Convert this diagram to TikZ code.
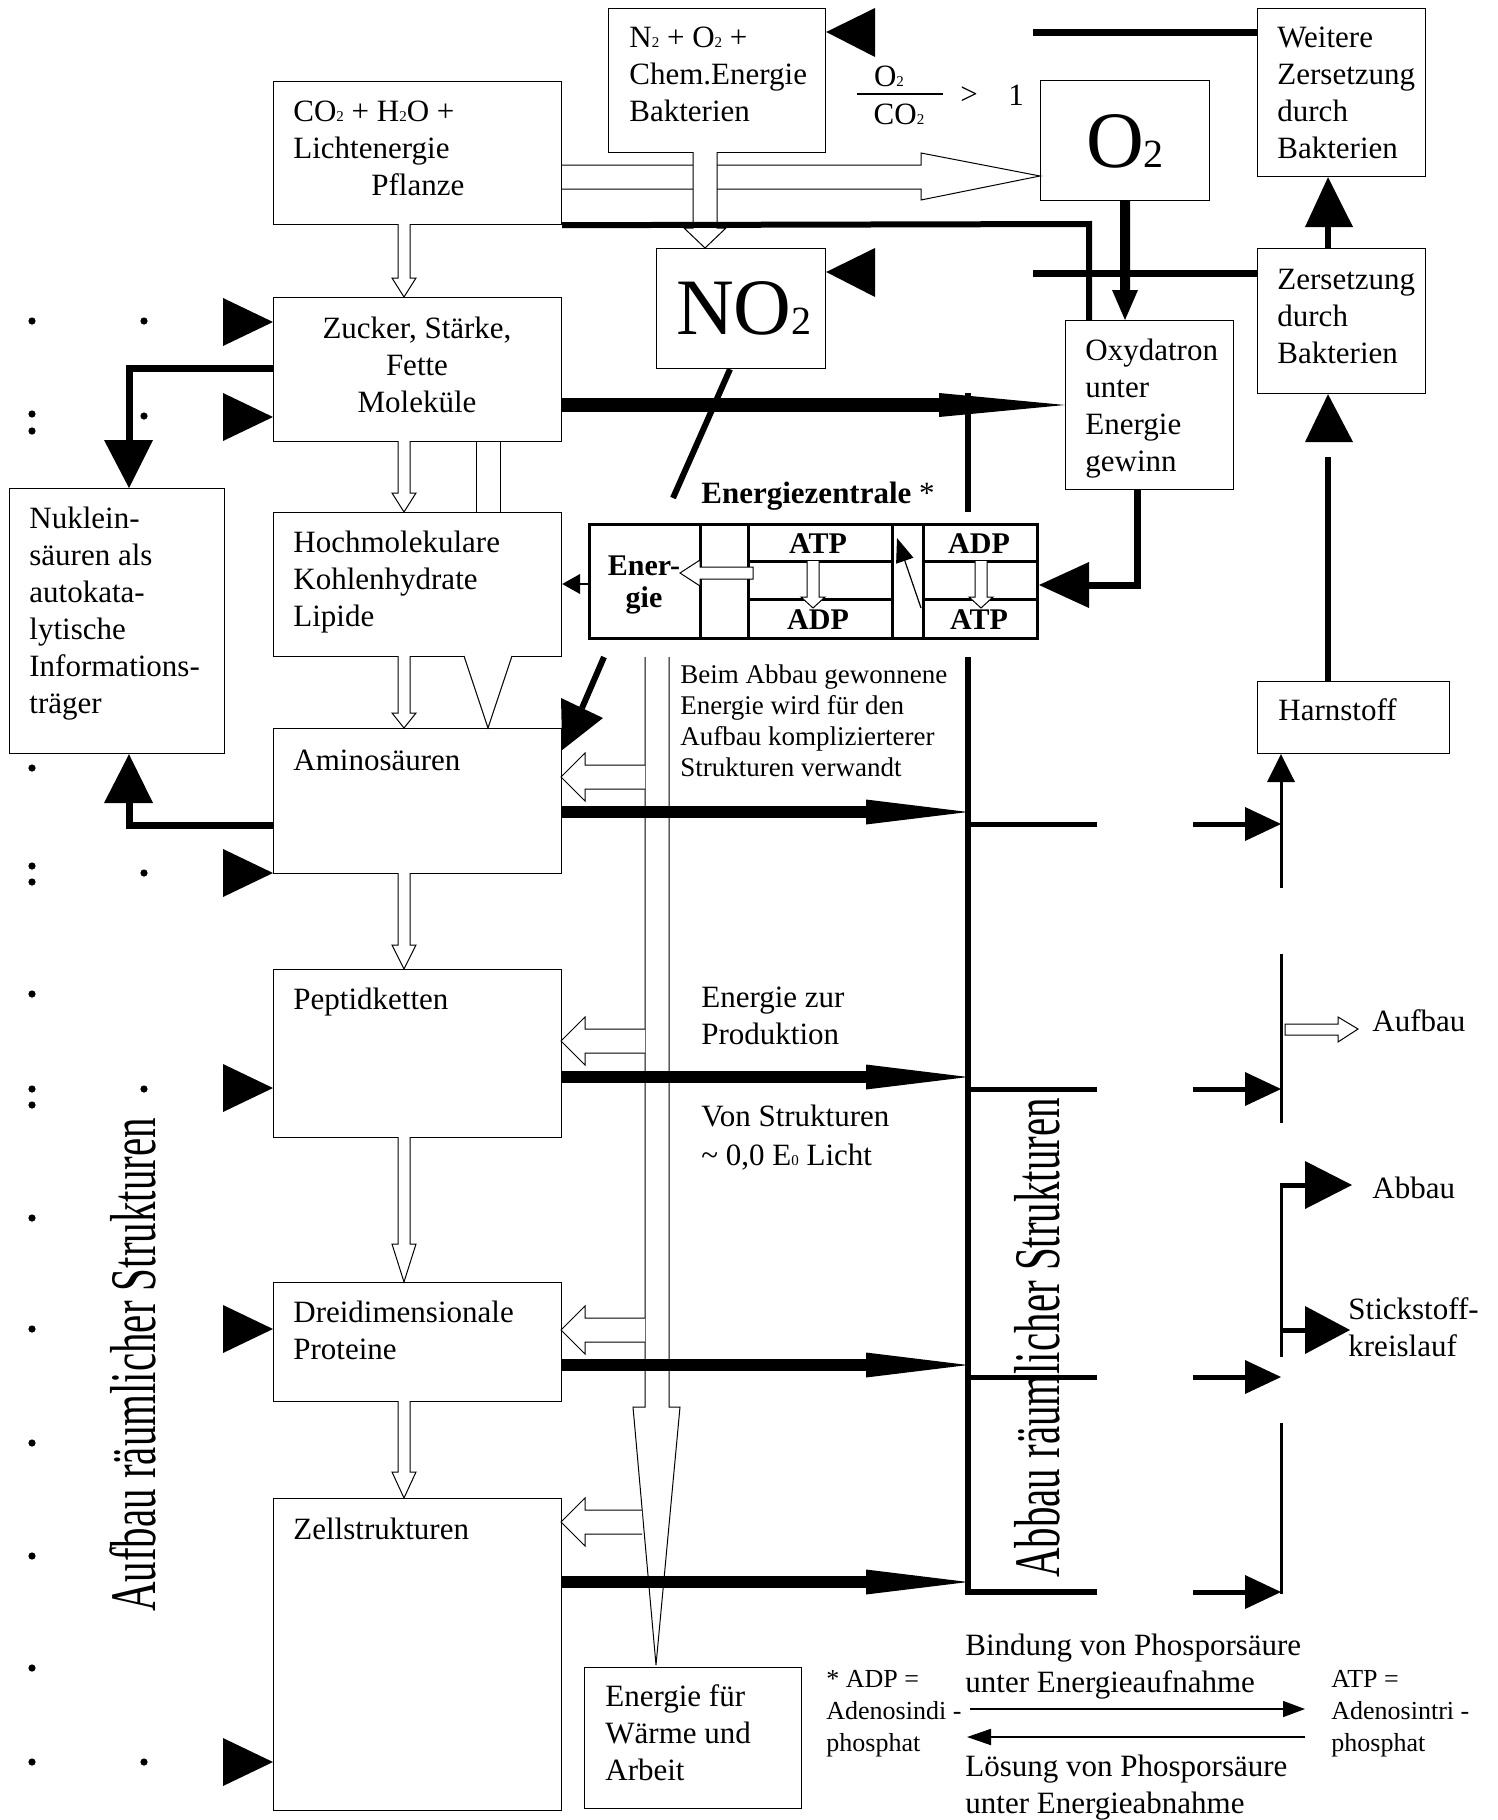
\documentclass[tikz,border=0pt]{standalone}
\usepackage{fontspec}
\setmainfont{Liberation Serif}
\usetikzlibrary{arrows.meta}
\newcommand\nsz{\fontsize{15.5}{18.5}\selectfont}
\newcommand\ssz{\fontsize{13.5}{15.5}\selectfont}
\newcommand\lgz{\fontsize{13}{16}\selectfont}
\newcommand\ezf{\fontsize{15}{18}\selectfont\bfseries}
\newcommand\bigf{\fontsize{40}{44}\selectfont}
\newcommand\sbt[1]{{\fontsize{7.5}{8}\selectfont #1}}
\newcommand\vlab{\fontsize{32.5}{36}\selectfont}
\begin{document}
\begin{tikzpicture}[x=0.5pt,y=-0.5pt,
  box/.style={draw, line width=0.6pt, inner sep=0pt, anchor=north west},
  txt/.style={anchor=north west, inner sep=0pt, align=left, font=\nsz},
  ltxt/.style={anchor=base west, inner sep=0pt, font=\nsz},
  openar/.style={draw, fill=white, line width=0.5pt},
  thk/.style={line width=3.5pt},
  fat/.style={line width=6pt},
  thinv/.style={line width=1.5pt}]
\useasboundingbox (0,0) rectangle (1498,1820);
\fill[white] (0,0) rectangle (1498,1820);

% ---------- boxes ----------
\node[box, minimum width=144pt, minimum height=71.5pt] (co2) at (273,81) {};
\node[box, minimum width=108.5pt, minimum height=72pt] (n2) at (608,8) {};
\node[box, minimum width=84pt, minimum height=84pt] (weitere) at (1257,8) {};
\node[box, minimum width=84.5pt, minimum height=60pt] (o2) at (1040,80) {};
\node[box, minimum width=84.5pt, minimum height=60pt] (no2) at (656,248) {};
\node[box, minimum width=84pt, minimum height=84.5pt] (oxy) at (1065,320) {};
\node[box, minimum width=84pt, minimum height=72.5pt] (zers) at (1257,248) {};
\node[box, minimum width=96pt, minimum height=36pt] (harn) at (1257,681) {};
\node[box, minimum width=144pt, minimum height=72pt] (zucker) at (273,297) {};
\node[box, minimum width=107.5pt, minimum height=132.5pt] (nuklein) at (9,488) {};
\node[box, minimum width=144pt, minimum height=72pt] (hoch) at (273,512) {};
\node[box, minimum width=144pt, minimum height=72.5pt] (amino) at (273,728) {};
\node[box, minimum width=144pt, minimum height=84pt] (peptid) at (273,969) {};
\node[box, minimum width=144pt, minimum height=59.5pt] (drei) at (273,1282) {};
\node[box, minimum width=144pt, minimum height=156pt] (zell) at (273,1498) {};
\node[box, minimum width=108.5pt, minimum height=70.5pt] (waerme) at (584,1667) {};
\node[box, line width=1.5pt, minimum width=224pt, minimum height=57pt] (ez) at (588,523) {};

% ---------- box texts ----------
\node[txt] (co2t) at (293,101) {CO\sbt{2} + H\sbt{2}O +\\Lichtenergie\\\hspace*{39pt}Pflanze};
\node[txt] (n2t) at (629,27) {N\sbt{2} + O\sbt{2} +\\Chem.Energie\\Bakterien};
\node[txt] (weitt) at (1277,27) {Weitere\\Zersetzung\\durch\\Bakterien};
\node[txt] (zerst) at (1277,269) {Zersetzung\\durch\\Bakterien};
\node[txt] (oxyt) at (1085,339) {Oxydatron\\unter\\Energie\\gewinn};
\node[ltxt] (harnt) at (1278,720) {Harnstoff};
\node[txt, anchor=north, align=center] (zuckt) at (417,317) {Zucker, Stärke,\\Fette\\Moleküle};
\node[txt] (nuklt) at (29,507) {Nuklein-\\säuren als\\autokata-\\lytische\\Informations-\\träger};
\node[txt] (hocht) at (293,531) {Hochmolekulare\\Kohlenhydrate\\Lipide};
\node[ltxt] (aminot) at (293,770) {Aminosäuren};
\node[ltxt] (peptt) at (293,1009) {Peptidketten};
\node[txt] (dreit) at (293,1301) {Dreidimensionale\\Proteine};
\node[ltxt] (zellt) at (293,1539) {Zellstrukturen};
\node[txt] (waermt) at (605,1684) {Energie für\\Wärme und\\Arbeit};
\node[anchor=base, inner sep=0pt, font=\bigf] (o2t) at (1125,167) {O{\fontsize{20}{20}\selectfont 2}};
\node[anchor=base, inner sep=0pt, font=\bigf] (no2t) at (744,334) {NO{\fontsize{20}{20}\selectfont 2}};

% fraction
\node[anchor=base, inner sep=0pt, font=\nsz] (fo2) at (889,86) {O\sbt{2}};
\draw[line width=0.8pt] (857,94) -- (943,94);
\node[anchor=base, inner sep=0pt, font=\nsz] (fco2) at (899,124) {CO\sbt{2}};
\node[anchor=center, inner sep=0pt, font=\nsz] (fgt) at (969,96) {>};
\node[anchor=base, inner sep=0pt, font=\nsz] (fone) at (1016,105) {1};

% free texts
\node[ltxt] (ezlab) at (701,503) {\textbf{Energiezentrale} *};
\node[txt, font=\ssz] (beimt) at (680,664) {Beim Abbau gewonnene\\Energie wird für den\\Aufbau komplizierterer\\Strukturen verwandt};
\node[txt] (zurt) at (701,987) {Energie zur\\Produktion};
\node[txt, font=\fontsize{15.5}{19.5}\selectfont] (vont) at (701,1105) {Von Strukturen\\\textasciitilde{} 0,0 E\sbt{0} Licht};
\node[ltxt] (aufbt) at (1372,1031) {Aufbau};
\node[ltxt] (abbt) at (1372,1198) {Abbau};
\node[txt] (stickt) at (1348,1297) {Stickstoff-\\kreislauf};
\node[txt, font=\lgz] (adpt) at (826,1670) {* ADP =\\Adenosindi -\\phosphat};
\node[txt, font=\lgz] (atpt) at (1331,1670) {ATP =\\Adenosintri -\\phosphat};
\node[txt] (bindt) at (965,1634) {Bindung von Phosporsäure\\unter Energieaufnahme};
\node[txt] (loest) at (965,1755) {Lösung von Phosporsäure\\unter Energieabnahme};
\node[anchor=center, rotate=90, inner sep=0pt] (vaufbau) at (133,1365) {\scalebox{0.63}[1]{\vlab Aufbau räumlicher Strukturen}};
\node[anchor=center, rotate=90, inner sep=0pt] (vabbau) at (1037,1338) {\scalebox{0.63}[1]{\vlab Abbau räumlicher Strukturen}};

% ---------- dots and left triangles ----------
\foreach \y in {321,414,431,768,866,882,994,1089,1105,1218,1329,1443,1556,1668,1762}
  \fill (32,\y) circle[radius=1.8pt];
\foreach \y in {321,416,873,1089,1762}
  \fill (144,\y) circle[radius=1.8pt];
\foreach \y in {322,417,873,1088,1329,1762}
  \fill (223,\y-24) -- (273,\y) -- (223,\y+24) -- cycle;

% ---------- open arrows between the left boxes ----------
\newcommand\opendn[4]{\draw[openar] (#1-6,#2) -- (#1-6,#3) -- (#1-12,#3) -- (#1,#4) -- (#1+12,#3) -- (#1+6,#3) -- (#1+6,#2);}
\opendn{404}{224}{278}{297}
\opendn{404}{441}{493}{512}
\opendn{404}{656}{713}{728}
\opendn{404}{873}{945}{969}
\opendn{404}{1137}{1244}{1282}
\opendn{404}{1401}{1472}{1498}
\draw[line width=0.5pt] (476,441) -- (476,512) (500,441) -- (500,512);
\draw[openar] (464,656) -- (488,728) -- (512,656);

% ---------- CO2 -> O2 and N2 -> NO2 open arrows ----------
\draw[openar] (co2.east |- 0,165) -- (921,165) -- (921,153) -- (o2.west |- 0,176) -- (921,200) -- (921,189) -- (co2.east |- 0,189);
\draw[openar] (693,152) -- (693,228) -- (684,228) -- (705,248) -- (726,228) -- (717,228) -- (717,152);

% ---------- energy column ----------
\draw[openar] (645,657) -- (645,1407) -- (633,1407) -- (656,1665) -- (680,1407) -- (669,1407) -- (669,657);
\newcommand\openlf[2]{\draw[openar] (#2,#1-12) -- (585,#1-12) -- (585,#1-24) -- (561,#1) -- (585,#1+24) -- (585,#1+12) -- (#2,#1+12);}
\openlf{777}{645}
\openlf{1041}{645}
\openlf{1330}{645}
\openlf{1522}{642}

% ---------- thick black connectors (top) ----------
\draw[line width=3pt] (co2.south east) -- (1089,224) -- (oxy.north -| 1089,0);
\fill (n2.east |- 0,32) -- (875,8) -- (875,57) -- cycle;
\draw[thk] (1033,32) -- (weitere.west |- 0,32);
\fill (no2.east |- 0,272) -- (875,248) -- (875,297) -- cycle;
\draw[thk] (1033,273) -- (zers.west |- 0,273);
\draw[line width=5pt] (o2.south) -- (1125,291);
\fill (1112,290) -- (oxy.north -| 1125,0) -- (1138,290) -- cycle;
\draw[line width=3pt] (zers.north -| 1328,0) -- (1328,226);
\fill (1305,227) -- (weitere.south -| 1328,0) -- (1353,227) -- cycle;
\draw[line width=3pt] (harn.north -| 1328,0) -- (1328,457);
\fill (1305,442) -- (zers.south -| 1328,0) -- (1353,442) -- cycle;
\draw[thk] (oxy.south -| 1137,0) -- (1137,585) -- (1088,585);
\fill (1089,562) -- (ez.east |- 0,585) -- (1089,608) -- cycle;

% Nuklein connectors
\draw[thk] (zucker.west |- 0,368) -- (129,368) -- (129,441);
\fill (104,440) -- (nuklein.north -| 129,0) -- (153,440) -- cycle;
\draw[thk] (amino.west |- 0,825) -- (129,825) -- (129,802);
\fill (104,803) -- (nuklein.south -| 129,0) -- (153,803) -- cycle;

% NO2 diagonal
\draw[line width=3pt] (no2.south -| 730,0) -- (673,498);
\draw[line width=3pt] (604,657) -- (582,708);
\fill (561,698) -- (603,718) -- (amino.east |- 0,750) -- cycle;

% ---------- Energiezentrale internals ----------
\draw[line width=1.5pt] (700,523) -- (700,637) (748,523) -- (748,637) (892,523) -- (892,637) (923,523) -- (923,637)
  (748,561) -- (892,561) (748,599) -- (892,599) (923,561) -- (1036,561) (923,599) -- (1036,599);
\draw[openar] (807,561) -- (807,597) -- (801,597) -- (813,608) -- (825,597) -- (819,597) -- (819,561);
\draw[openar] (975,561) -- (975,597) -- (969,597) -- (981,608) -- (993,597) -- (987,597) -- (987,561);
\draw[openar] (753,567) -- (700,567) -- (700,560) -- (680,573) -- (700,586) -- (700,579) -- (753,579) -- cycle;
\draw[line width=0.6pt, -{Triangle[length=12pt,width=9pt]}] (921,608) -- (897,538);
\node[anchor=base, inner sep=0pt, font=\ezf] (ener) at (644,575) {Ener-};
\node[anchor=base, inner sep=0pt, font=\ezf] (gie) at (644,607) {gie};
\node[anchor=base, inner sep=0pt, font=\ezf] (atp1) at (818,553) {ATP};
\node[anchor=base, inner sep=0pt, font=\ezf] (adp1) at (818,629) {ADP};
\node[anchor=base, inner sep=0pt, font=\ezf] (adp2) at (979,553) {ADP};
\node[anchor=base, inner sep=0pt, font=\ezf] (atp2) at (979,629) {ATP};
\draw[line width=1pt] (ez.west |- 0,584) -- (579,584);
\fill (580,574) -- (hoch.east |- 0,584) -- (580,594) -- cycle;

% ---------- Abbau column ----------
\draw[line width=3pt] (968,393) -- (968,512);
\draw[line width=3pt] (968,657) -- (968,1592) -- (1097,1592);
\draw[line width=7pt] (zucker.east |- 0,405) -- (940,405);
\fill (939,393) -- (oxy.west |- 0,405) -- (939,417) -- cycle;
\draw[fat] (amino.east |- 0,812) -- (867,812);
\fill (866,799.5) -- (968,812) -- (866,824.5) -- cycle;
\draw[fat] (peptid.east |- 0,1077) -- (867,1077);
\fill (866,1064.5) -- (968,1077) -- (866,1089.5) -- cycle;
\draw[fat] (drei.east |- 0,1365) -- (867,1365);
\fill (866,1352.5) -- (968,1365) -- (866,1377.5) -- cycle;
\draw[fat] (zell.east |- 0,1582) -- (867,1582);
\fill (866,1569.5) -- (968,1582) -- (866,1594.5) -- cycle;

% row lines to the right
\foreach \y in {824,1089,1377} \draw[line width=2.5pt] (968,\y) -- (1097,\y);
\foreach \y in {824,1089,1377,1592} {
  \draw[line width=2.5pt] (1193,\y) -- (1250,\y);
  \fill (1245,\y-17) -- (1281,\y) -- (1245,\y+17) -- cycle;
}
\draw[thinv] (1281,782) -- (1281,888);
\fill (1267,782) -- (harn.south -| 1281,0) -- (1295,782) -- cycle;
\draw[thinv] (1281,954) -- (1281,1123);
\draw[thinv] (1281,1186) -- (1281,1357);
\draw[thinv] (1281,1423) -- (1281,1594);
\draw[openar] (1285,1024) -- (1338,1024) -- (1338,1017) -- (1358,1029) -- (1338,1042) -- (1338,1035) -- (1285,1035) -- cycle;
\draw[line width=2.5pt] (1280,1185) -- (1306,1185);
\fill (1305,1161) -- (1352,1185) -- (1305,1209) -- cycle;
\draw[line width=2.5pt] (1280,1330) -- (1306,1330);
\fill (1305,1306) -- (1350,1330) -- (1305,1354) -- cycle;

% ---------- legend arrows ----------
\draw[line width=0.7pt, -{Triangle[length=11pt,width=8pt]}] (970,1709) -- (1305,1709);
\draw[line width=0.9pt, -{Triangle[length=12pt,width=8pt]}] (1305,1737) -- (967,1737);
\end{tikzpicture}
\end{document}
